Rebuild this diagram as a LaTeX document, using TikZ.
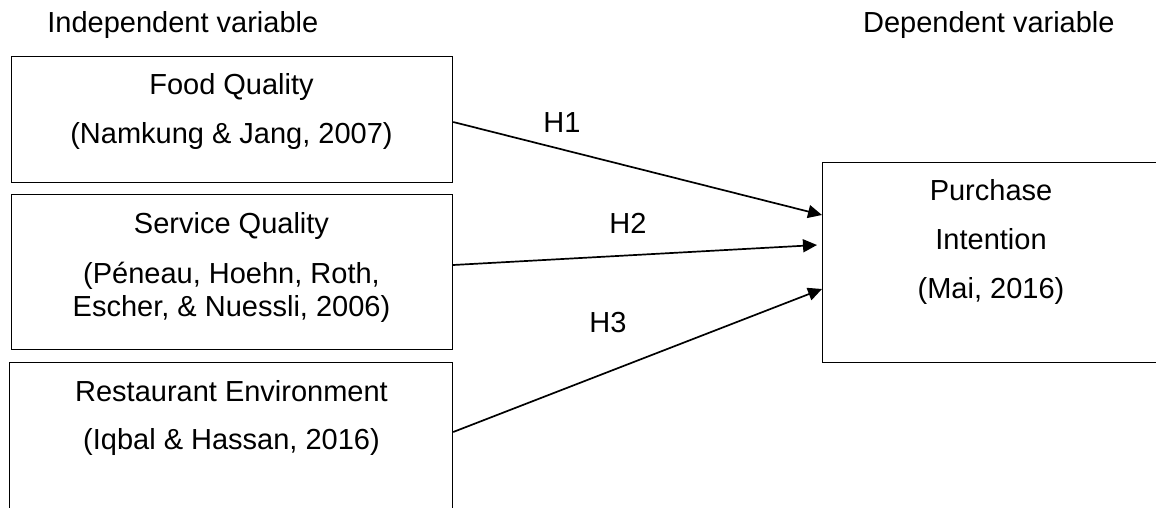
\documentclass[tikz,border=0pt]{standalone}
\usepackage{fontspec}
\setmainfont{Liberation Sans}
\usetikzlibrary{arrows.meta,calc}
\begin{document}
\begin{tikzpicture}[x=0.5pt,y=-0.5pt,
  box/.style={draw=black,line width=0.6pt,inner sep=0pt,anchor=north west},
  txt/.style={anchor=base,inner sep=0pt,font=\fontsize{14.5}{17}\selectfont},
  arr/.style={line width=0.85pt,-{Triangle[length=7pt,width=6.5pt]}}]
\useasboundingbox (0,0) rectangle (1156,508);
\clip (0,0) rectangle (1156,508);
% headers
\node[txt,anchor=base west] (iv) at (47,33) {Independent variable};
\node[txt,anchor=base east] (dv) at (1115,33) {Dependent variable};
% boxes
\node[box,minimum width=220.5pt,minimum height=63pt] (fq) at (11,56) {};
\node[box,minimum width=220.5pt,minimum height=77.5pt] (sq) at (11,194) {};
\node[box,minimum width=221.5pt,minimum height=79pt] (re) at (9,362) {};
\node[box,minimum width=174pt,minimum height=100pt] (pi) at (822,162) {};
% box texts
\node[txt] (fq1) at (231.5,95) {Food Quality};
\node[txt] (fq2) at (231.5,143) {(Namkung \& Jang, 2007)};
\node[txt] (sq1) at (231.5,233) {Service Quality};
\node[txt] (sq2) at (231.5,283) {(Péneau, Hoehn, Roth,};
\node[txt] (sq3) at (231.5,316) {Escher, \& Nuessli, 2006)};
\node[txt] (re1) at (231.5,401) {Restaurant Environment};
\node[txt] (re2) at (231.5,449) {(Iqbal \& Hassan, 2016)};
\node[txt] (pi1) at (991,200) {Purchase};
\node[txt] (pi2) at (991,249) {Intention};
\node[txt] (pi3) at (991,298) {(Mai, 2016)};
% connector end points
\coordinate (s1) at ($(fq.north east)+(0,66)$);
\coordinate (s2) at ($(sq.north east)+(0,71)$);
\coordinate (s3) at ($(re.north east)+(0,70)$);
\coordinate (e1) at ($(pi.north west)+(0,53)$);
\coordinate (e2) at ($(pi.north west)+(-5,83)$);
\coordinate (e3) at ($(pi.north west)+(0,127)$);
\draw[arr] (s1) -- (e1);
\draw[arr] (s2) -- (e2);
\draw[arr] (s3) -- (e3);
% labels
\node[txt,anchor=center] (h1) at (562,123) {H1};
\node[txt,anchor=center] (h2) at (628,223) {H2};
\node[txt,anchor=center] (h3) at (608,323) {H3};
\end{tikzpicture}
\end{document}
